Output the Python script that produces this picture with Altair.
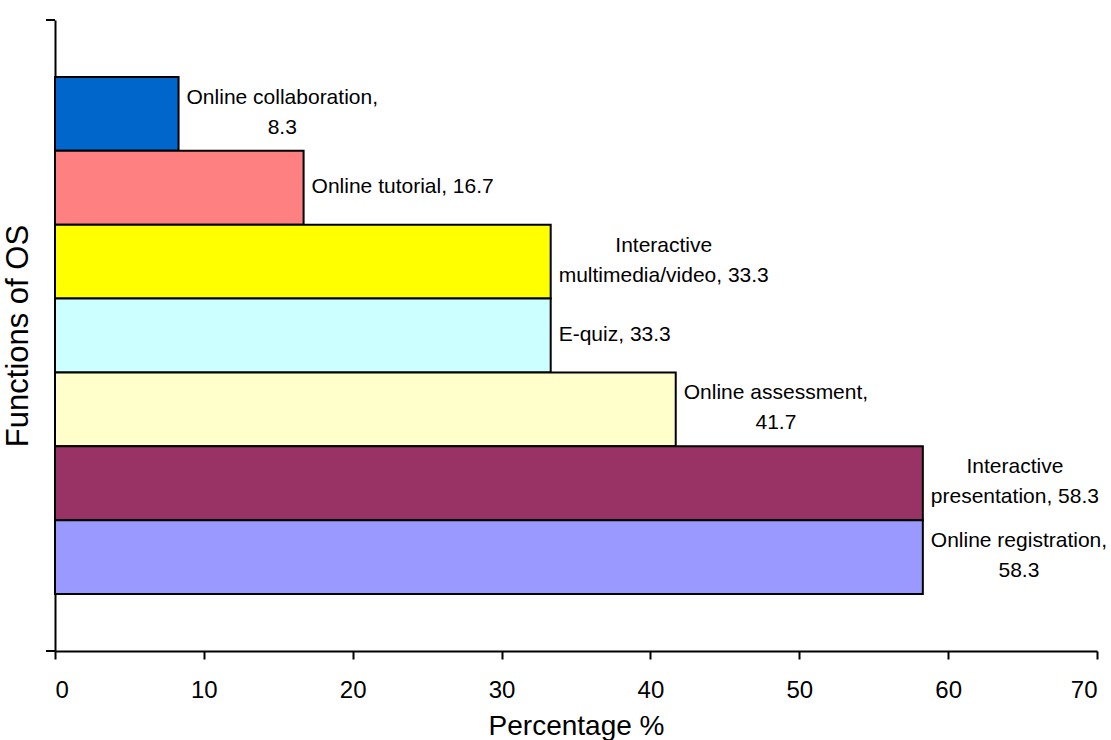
import altair as alt
import pandas as pd

categories = ["Online collaboration", "Online tutorial", "Interactive multimedia/video",
              "E-quiz", "Online assessment", "Interactive presentation", "Online registration"]
values = [8.3, 16.7, 33.3, 33.3, 41.7, 58.3, 58.3]
labels = ["Online collaboration,\n8.3", "Online tutorial, 16.7", "Interactive\nmultimedia/video, 33.3",
          "E-quiz, 33.3", "Online assessment,\n41.7", "Interactive\npresentation, 58.3",
          "Online registration,\n58.3"]
colors = ["#0066CC", "#FF8080", "#FFFF00", "#CCFFFF", "#FFFFCC", "#993366", "#9999FF"]
x_ticks = [0, 10, 20, 30, 40, 50, 60, 70]

FONT = "Liberation Sans"
LABEL_SIZE = 21
LINE_H = 30
W, H = 1042, 631

# Arial (Liberation Sans) advance widths, units per 1000 em
AFM = {" ": 278, ",": 278, ".": 278, "-": 333, "/": 278,
       "0": 556, "1": 556, "2": 556, "3": 556, "4": 556, "5": 556, "6": 556, "7": 556, "8": 556, "9": 556,
       "O": 778, "I": 278, "E": 667,
       "a": 556, "b": 556, "c": 500, "d": 556, "e": 556, "f": 278, "g": 556, "h": 556, "i": 222,
       "l": 222, "m": 833, "n": 556, "o": 556, "p": 556, "q": 556, "r": 333, "s": 500, "t": 278,
       "u": 556, "v": 500, "z": 500}


def text_width(s, size):
    return max(sum(AFM.get(ch, 556) for ch in line) for line in s.split("\n")) * size / 1000.0


df = pd.DataFrame({"category": categories, "value": values, "label": labels})

y_enc = alt.Y("category:N", sort=categories,
              scale=alt.Scale(paddingInner=0, paddingOuter=0.771),
              axis=alt.Axis(title="Functions of OS", labels=False, ticks=False,
                            domainColor="black", domainWidth=2,
                            titleFont=FONT, titleFontSize=31, titleFontWeight="normal",
                            titleColor="black", titlePadding=21))
x_enc = alt.X("value:Q", scale=alt.Scale(domain=[0, 70], nice=False),
              axis=alt.Axis(title="Percentage %", values=x_ticks, grid=False,
                            tickSize=8, tickColor="black", tickWidth=2,
                            domainColor="black", domainWidth=2,
                            labelFont=FONT, labelFontSize=24, labelColor="black", labelPadding=19,
                            titleFont=FONT, titleFontSize=28, titleFontWeight="normal",
                            titleColor="black", titlePadding=10))

bars = alt.Chart(df).mark_bar(stroke="black", strokeWidth=2).encode(
    x=x_enc,
    y=y_enc,
    color=alt.Color("category:N", scale=alt.Scale(domain=categories, range=colors), legend=None),
)

layers = [bars]
for cat, lab in zip(categories, labels):
    w = text_width(lab, LABEL_SIZE)
    n_lines = lab.count("\n") + 1
    layers.append(
        alt.Chart(df).transform_filter(alt.datum.category == cat).mark_text(
            align="center", baseline="middle", dx=8 + w / 2, dy=-(n_lines - 1) * LINE_H / 2 - 1,
            font=FONT, fontSize=LABEL_SIZE, lineHeight=LINE_H, lineBreak="\n", color="black"
        ).encode(x="value:Q", y=alt.Y("category:N", sort=categories), text="label:N")
    )

# end ticks of the category axis
for yv in [0, H]:
    layers.append(
        alt.Chart(alt.Data(values=[{"k": 1}])).mark_rule(color="black", strokeWidth=2).encode(
            x=alt.value(-9), x2=alt.value(0), y=alt.value(yv)
        )
    )

chart = alt.layer(*layers).properties(
    width=W, height=H,
    autosize=alt.AutoSizeParams(type="none"),
    padding={"left": 55, "top": 20, "right": 14, "bottom": 89},
    background="white",
).configure_view(stroke=None)

chart.save("out.html", embed_options={"renderer": "svg", "actions": False})
